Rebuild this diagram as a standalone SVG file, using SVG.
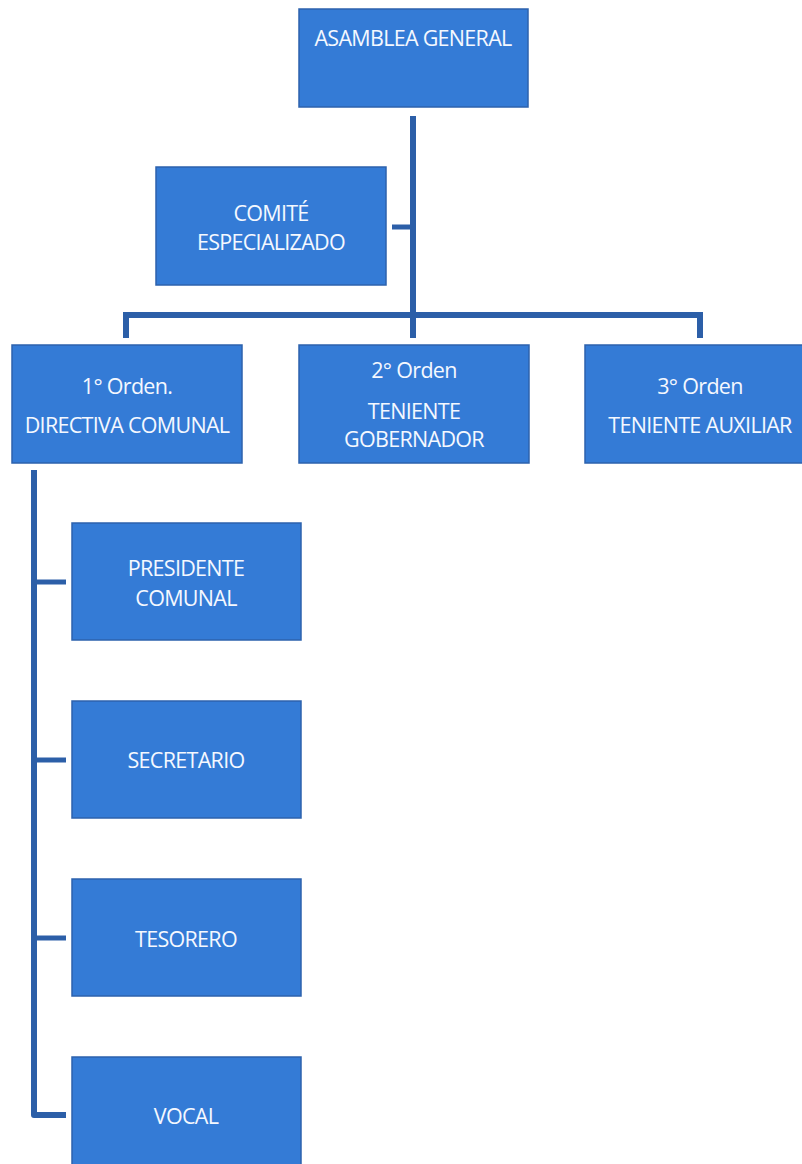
<svg xmlns="http://www.w3.org/2000/svg" width="802" height="1164" viewBox="0 0 802 1164">
<style>
.box{fill:#347bd6;stroke:#2c62ad;stroke-width:1.5}
.t{font-family:"Open Sans","Liberation Sans",sans-serif;font-size:21.5px;fill:#f4f8ff;text-anchor:middle;dominant-baseline:central;letter-spacing:-0.7px}
.c{stroke:#2c5fa8;fill:none;stroke-width:6;stroke-linecap:butt}
.s{stroke:#2c5fa8;fill:none;stroke-width:5}
</style>
<rect width="802" height="1164" fill="#ffffff"/>
<g id="connectors">
<line class="c" x1="413" y1="116" x2="413" y2="338"/>
<line class="s" x1="392" y1="227" x2="413" y2="227"/>
<polyline class="c" points="126,338 126,315 700,315 700,338"/>
<polyline class="c" points="34,470 34,1115 66,1115" stroke-linejoin="round"/>
<line class="s" x1="34" y1="582" x2="66" y2="582"/>
<line class="s" x1="34" y1="760" x2="66" y2="760"/>
<line class="s" x1="34" y1="938" x2="66" y2="938"/>
</g>
<g id="asamblea"><rect class="box" x="299" y="9" width="229" height="98"/><text class="t" x="413" y="37">ASAMBLEA GENERAL</text></g>
<g id="comite"><rect class="box" x="156" y="167" width="230" height="118"/><text class="t" x="271" y="212">COMITÉ</text><text class="t" x="271" y="241">ESPECIALIZADO</text></g>
<g id="orden1"><rect class="box" x="12" y="345" width="230" height="118"/><text class="t" x="127" y="385">1° Orden.</text><text class="t" x="127" y="424">DIRECTIVA COMUNAL</text></g>
<g id="orden2"><rect class="box" x="299" y="345" width="230" height="118"/><text class="t" x="414" y="369">2° Orden</text><text class="t" x="414" y="410">TENIENTE</text><text class="t" x="414" y="438">GOBERNADOR</text></g>
<g id="orden3"><rect class="box" x="585" y="345" width="230" height="118"/><text class="t" x="700" y="385">3° Orden</text><text class="t" x="700" y="424">TENIENTE AUXILIAR</text></g>
<g id="presidente"><rect class="box" x="72" y="523" width="229" height="117"/><text class="t" x="186" y="567">PRESIDENTE</text><text class="t" x="186" y="597">COMUNAL</text></g>
<g id="secretario"><rect class="box" x="72" y="701" width="229" height="117"/><text class="t" x="186" y="759">SECRETARIO</text></g>
<g id="tesorero"><rect class="box" x="72" y="879" width="229" height="117"/><text class="t" x="186" y="938">TESORERO</text></g>
<g id="vocal"><rect class="box" x="72" y="1057" width="229" height="117"/><text class="t" x="186" y="1115">VOCAL</text></g>
</svg>
